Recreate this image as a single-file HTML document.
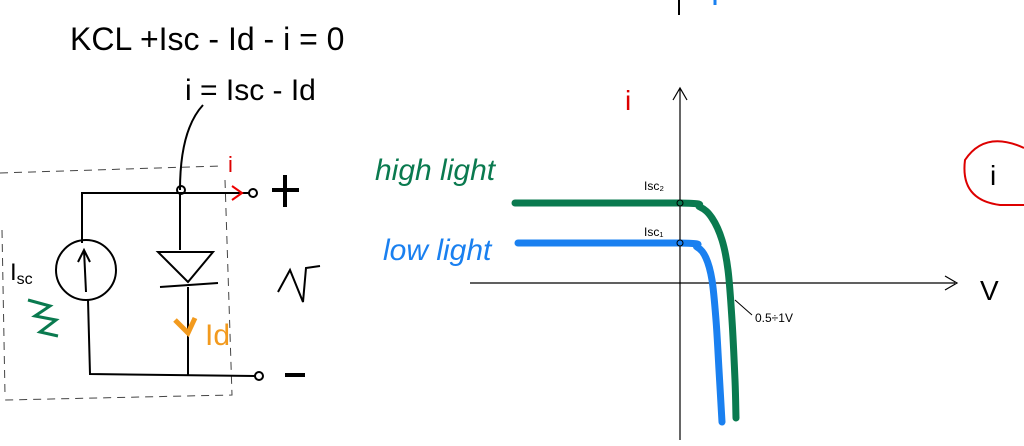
<!DOCTYPE html>
<html><head><meta charset="utf-8"><style>
html,body{margin:0;padding:0;background:#fff;}
svg{display:block;}
text{font-family:"Liberation Sans",sans-serif;}
</style></head><body>
<svg id="c" width="1024" height="446" viewBox="0 0 1024 446">
<g>
<text x="70" y="50" font-size="32" fill="#000">KCL  +Isc - Id - i = 0</text>
<text x="185" y="100" font-size="30" fill="#000">i = Isc - Id</text>
</g>
<g stroke="#000" stroke-width="2" fill="none">
<path d="M0 173 L220 166" stroke-dasharray="8,6" stroke="#444" stroke-width="1"/>
<path d="M225 180 L232 395 L5 400" stroke-dasharray="8,6" stroke="#444" stroke-width="1"/>
<path d="M2 230 L5 395" stroke-dasharray="8,6" stroke="#444" stroke-width="1"/>
<path d="M203 105 Q180 130 180 190"/>
<path d="M82 243 L82 193 L250 193"/>
<circle cx="181" cy="190" r="4"/>
<circle cx="253" cy="193" r="4"/>
<circle cx="86" cy="270" r="30"/>
<path d="M86 292 L84 250 M78 262 L84 250 L90 262"/>
<path d="M88 300 L90 374 L255 376"/>
<circle cx="259" cy="376" r="4"/>
<path d="M180 193 L180 250 M158 252 L213 252 L188 282 Z M160 287 L218 283 M188 287 L188 376"/>
<path d="M272 190 L299 190 M285 175 L285 207" stroke-width="4"/>
<path d="M285 375 L305 375" stroke-width="4"/>
<path d="M278 292 L290 270 L303 302 L306 268 L320 266"/>
<path d="M28 300 L50 306 L35 316 L56 320 L40 332 L58 336" stroke="#0a7a4f" stroke-width="3"/>
<path d="M175 320 L188 333 L195 318" stroke="#f29a1e" stroke-width="5"/>
<path d="M232 186 L242 193 L232 200" stroke="#e00"/>
</g>
<text x="10" y="280" font-size="24" fill="#000">I<tspan font-size="16" dy="4">sc</tspan></text>
<text x="205" y="345" font-size="30" fill="#f29a1e">Id</text>
<text x="228" y="172" font-size="22" fill="#d00">i</text>
<g id="chart"></g>
<text x="375" y="180" font-size="30" fill="#0a7a4f" font-style="italic">high light</text>
<text x="383" y="260" font-size="30" fill="#1a80f0" font-style="italic">low light</text>
<text x="625" y="110" font-size="28" fill="#d00">i</text>
<text x="980" y="300" font-size="28" fill="#000">V</text>
<text x="644" y="190" font-size="12" fill="#000">Isc₂</text>
<text x="644" y="236" font-size="12" fill="#000">Isc₁</text>
<text x="755" y="322" font-size="12" fill="#000">0.5÷1V</text>
<path d="M735 300 L752 315" stroke="#000" fill="none"/>
<path d="M1024 148 Q985 130 965 160 Q960 200 1000 205 L1024 205" stroke="#d00" stroke-width="2" fill="none"/>
<text x="990" y="185" font-size="28" fill="#000">i</text>
<path d="M679 0 L679 15" stroke="#000" stroke-width="2"/>
<path d="M715 0 L715 5" stroke="#1a80f0" stroke-width="3"/>
</svg>
<script>
const greenV=[-3.3,0,0.4,0.64,0.84,0.96,1.04,1.1,1.12];
const greenI=[2,2,1.9,1.625,1.075,0.325,-0.925,-2.425,-3.375];
const blueV=[-3.24,0,0.34,0.52,0.64,0.72,0.78,0.84];
const blueI=[1,1,0.9,0.625,0.075,-0.925,-2.175,-3.475];
const NS="http://www.w3.org/2000/svg";
const g=document.getElementById('chart');
function xs(v){return 680+v*50;}
function ys(i){return 283-i*40;}
function mk(t,a){const e=document.createElementNS(NS,t);for(const k in a)e.setAttribute(k,a[k]);g.appendChild(e);return e;}
const ax=mk('path',{d:'M470 283 L955 283 M945 276 L957 283 L945 290',stroke:'#000','stroke-width':1.2,fill:'none'});


const ay=mk('path',{d:'M680 440 L680 88 M673 100 L680 88 L687 100',stroke:'#000','stroke-width':1.2,fill:'none'});


function line(V,I,col){
  const P=V.map((v,k)=>[xs(v),ys(I[k])]);
  let d='M'+P[0][0]+' '+P[0][1];
  for(let k=0;k<P.length-1;k++){
    const p0=P[Math.max(0,k-1)],p1=P[k],p2=P[k+1],p3=P[Math.min(P.length-1,k+2)];
    const c1=[p1[0]+(p2[0]-p0[0])/6,p1[1]+(p2[1]-p0[1])/6];
    const c2=[p2[0]-(p3[0]-p1[0])/6,p2[1]-(p3[1]-p1[1])/6];
    if(k===0){d+=' L'+p2[0]+' '+p2[1];continue;}
    d+=' C'+c1[0].toFixed(1)+' '+c1[1].toFixed(1)+' '+c2[0].toFixed(1)+' '+c2[1].toFixed(1)+' '+p2[0].toFixed(1)+' '+p2[1].toFixed(1);
  }
  return mk('path',{d:d,stroke:col,'stroke-width':7,fill:'none','stroke-linecap':'round','stroke-linejoin':'round'});
}
const gl=line(greenV,greenI,'#0a7a4f');


const bl=line(blueV,blueI,'#1a80f0');


const d1=mk('circle',{cx:xs(0),cy:ys(greenI[0]),r:3,fill:'none',stroke:'#000'});


const d2=mk('circle',{cx:xs(0),cy:ys(blueI[0]),r:3,fill:'none',stroke:'#000'});


</script>
</body></html>
